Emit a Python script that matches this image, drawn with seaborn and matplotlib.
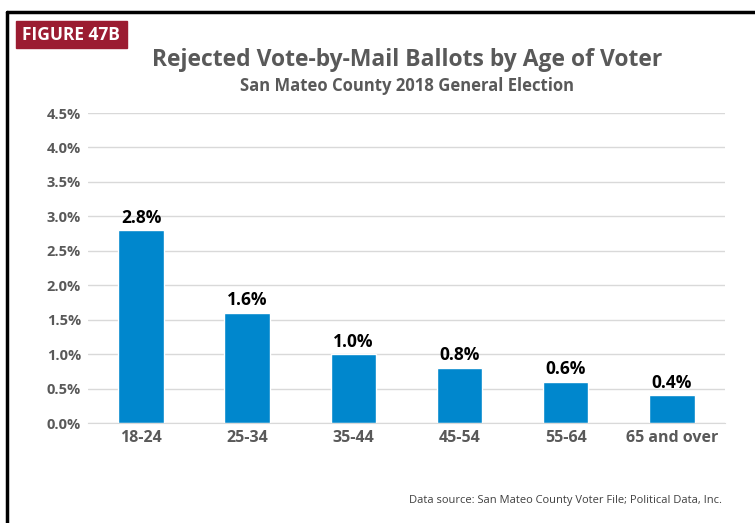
import pandas as pd
import seaborn as sns
import matplotlib.pyplot as plt
from matplotlib.patches import Rectangle

age_groups = ['18-24', '25-34', '35-44', '45-54', '55-64', '65 and over']
rejected_pct = [2.8, 1.6, 1.0, 0.8, 0.6, 0.4]
y_ticks = [0.0, 0.5, 1.0, 1.5, 2.0, 2.5, 3.0, 3.5, 4.0, 4.5]

df = pd.DataFrame({'Age': age_groups, 'Rejected': rejected_pct})

sns.set_style('white')
plt.rcParams['font.family'] = ['Open Sans', 'DejaVu Sans']

fig = plt.figure(figsize=(7.55, 5.23), dpi=100)
ax = fig.add_axes([0.1166, 0.1912, 0.8434, 0.5927])

sns.barplot(data=df, x='Age', y='Rejected', color='#0087CD', width=0.43,
            saturation=1, ax=ax)

ax.set_ylim(0, 4.5)
ax.set_xlim(-0.5, 5.5)
ax.set_yticks(y_ticks)
ax.set_yticklabels([f'{t:.1f}%' for t in y_ticks], fontsize=10.5,
                   fontweight='bold', color='#595959')
ax.set_xticks(range(len(age_groups)))
ax.set_xticklabels(age_groups, fontsize=11.5, fontweight='bold', color='#595959')
ax.tick_params(axis='both', length=0, pad=5)
ax.set_xlabel('')
ax.set_ylabel('')
ax.grid(axis='y', color='#D9D9D9', linewidth=1)
ax.set_axisbelow(True)
for s in ['top', 'right', 'left']:
    ax.spines[s].set_visible(False)
ax.spines['bottom'].set_color('#D9D9D9')

for i, v in enumerate(rejected_pct):
    ax.text(i, v + 0.05, f'{v:.1f}%', ha='center', va='bottom',
            fontsize=12.5, fontweight='bold', color='black')

# frame + figure badge
fig.add_artist(plt.Line2D([7 / 755, 7 / 755], [0, 1 - 12 / 523],
                          color='black', linewidth=2.5))
fig.add_artist(plt.Line2D([7 / 755, 1], [1 - 12 / 523, 1 - 12 / 523],
                          color='black', linewidth=2.5))
fig.add_artist(Rectangle((16 / 755, 1 - 48 / 523), 111 / 755, 27 / 523,
                         transform=fig.transFigure, color='#9B1C31'))
fig.text(71 / 755, 1 - 35 / 523, 'FIGURE 47B', ha='center', va='center',
         fontsize=12.5, fontweight='bold', color='white')

fig.text(407 / 755, 1 - 60 / 523, 'Rejected Vote-by-Mail Ballots by Age of Voter',
         ha='center', va='center', fontsize=16.5, fontweight='bold', color='#595959')
fig.text(407 / 755, 1 - 86 / 523, 'San Mateo County 2018 General Election',
         ha='center', va='center', fontsize=12, fontweight='bold', color='#595959')
fig.text(722 / 755, 1 - 501 / 523,
         'Data source: San Mateo County Voter File; Political Data, Inc.',
         ha='right', va='center', fontsize=8, color='#404040')

plt.savefig('out.png', dpi=100)
